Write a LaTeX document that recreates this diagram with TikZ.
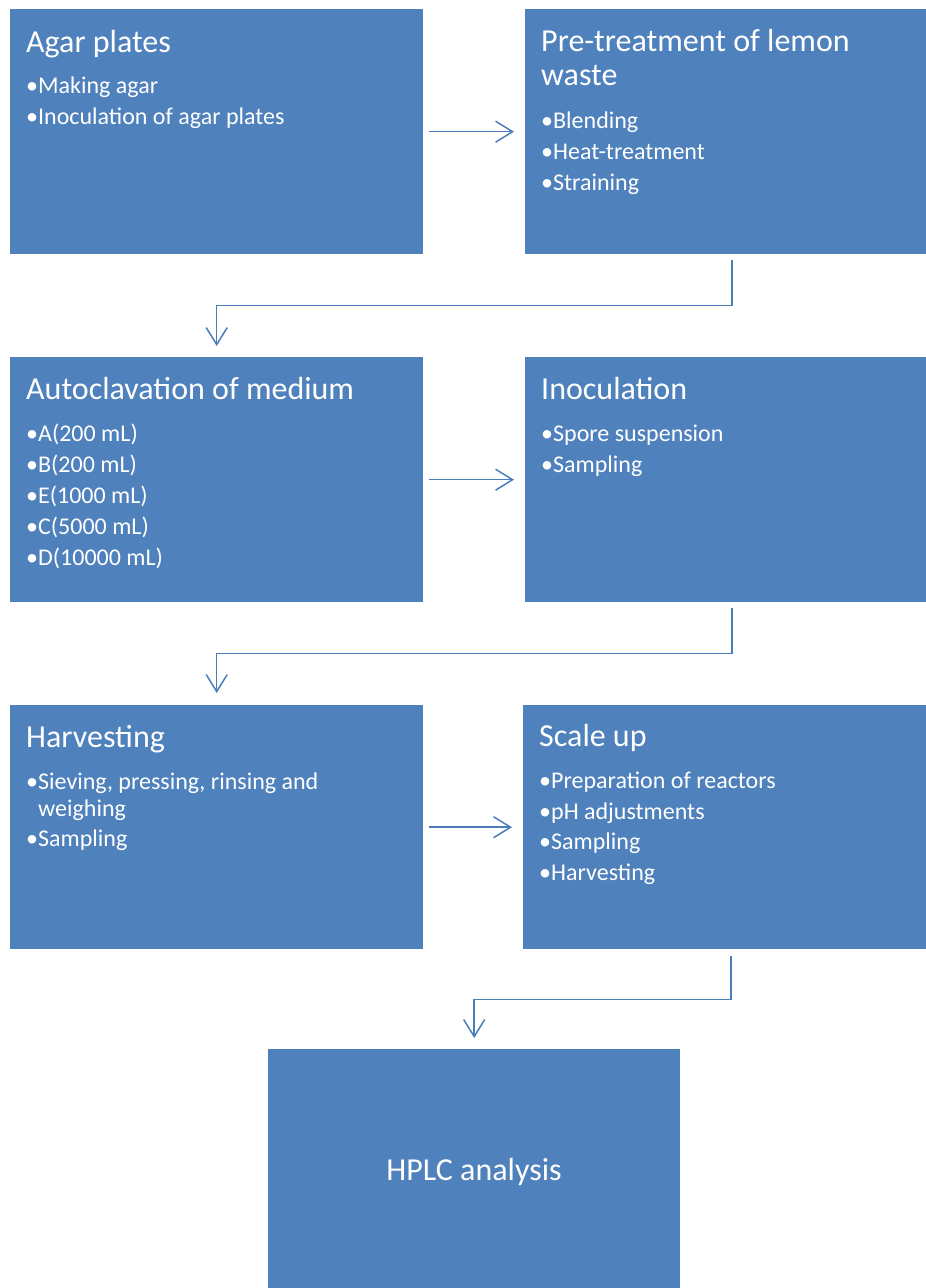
\documentclass[tikz,border=0pt]{standalone}
\usepackage{fontspec}
\setmainfont{Carlito}
\usetikzlibrary{arrows.meta,calc}
\definecolor{boxblue}{HTML}{4F81BD}
\definecolor{linkblue}{HTML}{4A7EBB}
\tikzset{
  box/.style={fill=boxblue, draw=none, inner sep=0pt, anchor=north west},
  ttl/.style={anchor=base west, inner sep=0pt, text=white, font=\fontsize{32}{34}\selectfont},
  itm/.style={anchor=base west, inner sep=0pt, text=white, font=\fontsize{24}{28}\selectfont},
  conn/.style={draw=linkblue, line width=1.5pt, -{Straight Barb[length=17pt,width=21pt,line width=1.5pt]}}
}
\begin{document}
\begin{tikzpicture}[x=1pt,y=-1pt]
\useasboundingbox (0,0) rectangle (926,1288);
% boxes
\node[box, minimum width=413pt, minimum height=245pt] (b1) at (10,9) {};
\node[box, minimum width=401pt, minimum height=245pt] (b2) at (525,9) {};
\node[box, minimum width=413pt, minimum height=245pt] (b3) at (10,357) {};
\node[box, minimum width=401pt, minimum height=245pt] (b4) at (525,357) {};
\node[box, minimum width=413pt, minimum height=244pt] (b5) at (10,705) {};
\node[box, minimum width=403pt, minimum height=244pt] (b6) at (523,705) {};
\node[box, minimum width=412pt, minimum height=239pt] (b7) at (268,1049) {};
% box 1
\node[ttl] (t1) at (26,52) {Agar plates};
\node[itm] (t1a) at (26,93) {•Making agar};
\node[itm] (t1b) at (26,124) {•Inoculation of agar plates};
% box 2
\node[ttl] (t2) at (541,51) {Pre-treatment of lemon};
\node[ttl] (t2w) at (541,85) {waste};
\node[itm] (t2a) at (541,128) {•Blending};
\node[itm] (t2b) at (541,159) {•Heat-treatment};
\node[itm] (t2c) at (541,190) {•Straining};
% box 3
\node[ttl] (t3) at (26,399) {Autoclavation of medium};
\node[itm] (t3a) at (26,441) {•A(200 mL)};
\node[itm] (t3b) at (26,472) {•B(200 mL)};
\node[itm] (t3c) at (26,503) {•E(1000 mL)};
\node[itm] (t3d) at (26,534) {•C(5000 mL)};
\node[itm] (t3e) at (26,565) {•D(10000 mL)};
% box 4
\node[ttl] (t4) at (541,399) {Inoculation};
\node[itm] (t4a) at (541,441) {•Spore suspension};
\node[itm] (t4b) at (541,472) {•Sampling};
% box 5
\node[ttl] (t5) at (26,747) {Harvesting};
\node[itm] (t5a) at (26,789) {•Sieving, pressing, rinsing and};
\node[itm] (t5b) at (38,816) {weighing};
\node[itm] (t5c) at (26,846) {•Sampling};
% box 6
\node[ttl] (t6) at (539,746) {Scale up};
\node[itm] (t6a) at (539,788) {•Preparation of reactors};
\node[itm] (t6b) at (539,819) {•pH adjustments};
\node[itm] (t6c) at (539,849) {•Sampling};
\node[itm] (t6d) at (539,880) {•Harvesting};
% box 7
\node[anchor=base, inner sep=0pt, text=white, font=\fontsize{32}{34}\selectfont] (t7) at (474,1180) {HPLC analysis};
% connectors
\draw[conn] ([xshift=6pt]b1.east) -- ([xshift=-11pt]b2.west);
\draw[conn] ([xshift=6pt]b3.east) -- ([xshift=-11pt]b4.west);
\draw[conn] ([xshift=6pt]b5.east) -- ([xshift=-11pt]b6.west);
\draw[conn] ([xshift=6.5pt,yshift=-6pt]b2.south) -- ++(0,45) -| ([yshift=11pt]b3.north);
\draw[conn] ([xshift=6.5pt,yshift=-6pt]b4.south) -- ++(0,45) -| ([yshift=12pt]b5.north);
\draw[conn] ([xshift=6.5pt,yshift=-7pt]b6.south) -- ++(0,43) -| ([yshift=11pt]b7.north);
\end{tikzpicture}
\end{document}
